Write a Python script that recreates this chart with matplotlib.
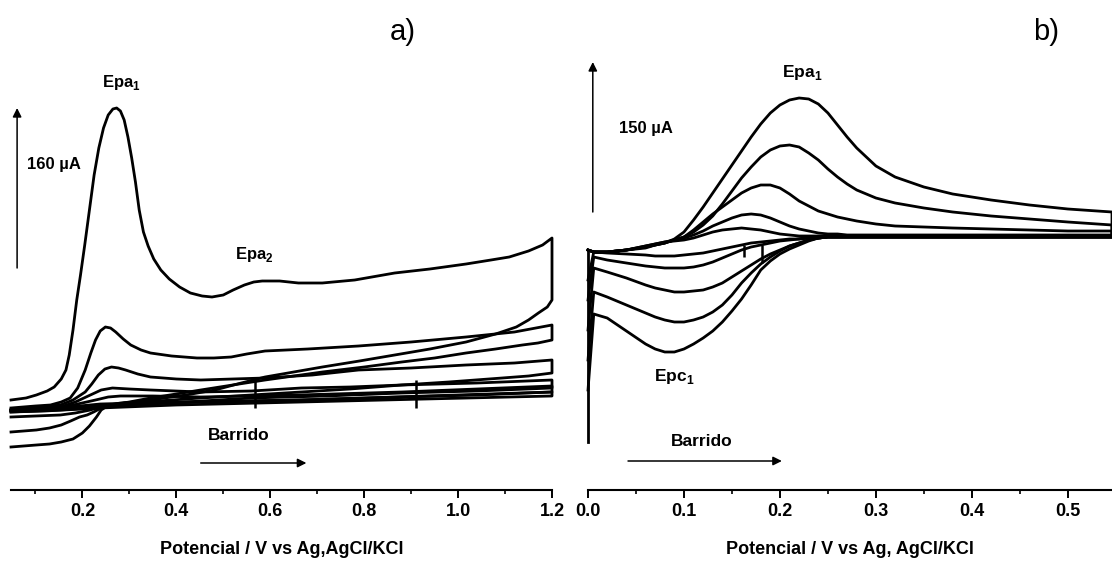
import matplotlib.pyplot as plt
from matplotlib.ticker import MultipleLocator

plt.rcParams["font.family"] = ["Liberation Sans", "DejaVu Sans"]
plt.rcParams["font.weight"] = "bold"
plt.rcParams["mathtext.fontset"] = "custom"
plt.rcParams["mathtext.rm"] = "Liberation Sans:bold"

# ----------------------------------------
# a) Potencial (V) y corriente (uA), barrido directo / inverso
# ----------------------------------------
A_FWD_E = [
    [0.048, 0.080, 0.102, 0.125, 0.140, 0.155, 0.165, 0.172, 0.180, 0.188, 0.196,
     0.205, 0.215, 0.225, 0.235, 0.245, 0.255, 0.265, 0.273, 0.281, 0.289, 0.297,
     0.305, 0.313, 0.321, 0.330, 0.340, 0.352, 0.367, 0.385, 0.407, 0.430, 0.455,
     0.476, 0.500, 0.521, 0.545, 0.565, 0.583, 0.620, 0.660, 0.711, 0.780, 0.865,
     0.940, 1.017, 1.070, 1.109, 1.150, 1.180, 1.200],
    [0.048, 0.100, 0.132, 0.155, 0.174, 0.190, 0.206, 0.218, 0.228, 0.238, 0.249,
     0.260, 0.271, 0.287, 0.303, 0.325, 0.345, 0.390, 0.444, 0.480, 0.517, 0.550,
     0.589, 0.680, 0.788, 0.900, 1.017, 1.120, 1.200],
    [0.048, 0.100, 0.153, 0.180, 0.206, 0.220, 0.234, 0.248, 0.262, 0.277, 0.292,
     0.318, 0.345, 0.400, 0.452, 0.520, 0.589, 0.690, 0.788, 0.900, 1.017, 1.120, 1.200],
    [0.048, 0.100, 0.153, 0.185, 0.217, 0.240, 0.264, 0.300, 0.345, 0.452, 0.560,
     0.666, 0.770, 0.880, 1.040, 1.200],
    [0.048, 0.120, 0.153, 0.190, 0.228, 0.255, 0.281, 0.350, 0.452, 0.660, 0.880,
     1.040, 1.200],
    [0.048, 0.150, 0.238, 0.400, 0.666, 0.930, 1.200],
]
A_FWD_I = [
    [10, 12, 15, 19, 23, 31, 40, 55, 80, 110, 135, 165, 200, 235, 262, 282, 295, 301,
     302, 299, 290, 273, 252, 228, 200, 178, 164, 151, 140, 131, 123, 117, 114, 113,
     115, 120, 125, 128, 129, 129, 127, 127, 130, 137, 141, 146, 150, 153, 159, 165, 172],
    [2, 4, 5, 8, 12, 22, 40, 57, 70, 79, 83, 82, 78, 71, 65, 60, 57, 54, 52, 52, 53,
     56, 59, 61, 64, 68, 73, 78, 85],
    [0, 2, 5, 10, 18, 26, 35, 41, 43, 42, 40, 36, 33, 31, 30, 31, 32, 35, 40, 42, 45, 47, 50],
    [0, 1, 3, 8, 15, 20, 22, 21, 20, 18, 19, 22, 23, 25, 27, 30],
    [0, 1, 2, 6, 10, 13, 14, 14, 13, 15, 18, 21, 24],
    [-1, 2, 6, 8, 10, 14, 18],
]
A_REV_E = [
    [1.200, 1.190, 1.171, 1.150, 1.124, 1.080, 1.017, 0.940, 0.865, 0.790, 0.711,
     0.650, 0.589, 0.530, 0.482, 0.420, 0.345, 0.290, 0.253, 0.240, 0.230, 0.215,
     0.200, 0.180, 0.155, 0.130, 0.102, 0.075, 0.048],
    [1.200, 1.170, 1.137, 1.080, 1.017, 0.950, 0.880, 0.800, 0.711, 0.650, 0.589,
     0.520, 0.452, 0.400, 0.345, 0.300, 0.260, 0.240, 0.224, 0.210, 0.194, 0.175,
     0.155, 0.130, 0.102, 0.075, 0.048],
    [1.200, 1.150, 1.094, 0.980, 0.880, 0.770, 0.666, 0.560, 0.452, 0.360, 0.281,
     0.245, 0.217, 0.185, 0.153, 0.100, 0.048],
    [1.200, 1.040, 0.880, 0.720, 0.559, 0.420, 0.281, 0.220, 0.153, 0.100, 0.048],
    [1.200, 1.040, 0.880, 0.660, 0.452, 0.340, 0.238, 0.150, 0.048],
    [1.200, 0.930, 0.666, 0.400, 0.238, 0.120, 0.048],
]
A_REV_I = [
    [110, 103, 97, 90, 83, 76, 68, 61, 55, 49, 43, 38, 33, 26, 20, 15, 10, 7, 4, 0,
     -7, -16, -23, -29, -32, -34, -35, -36, -37],
    [70, 67, 65, 61, 57, 52, 48, 43, 38, 34, 30, 25, 20, 16, 12, 8, 5, 2, -2, -5, -7,
     -11, -15, -18, -20, -21, -22],
    [37, 34, 32, 28, 25, 21, 18, 15, 12, 9, 7, 4, 0, -3, -5, -6, -7],
    [22, 19, 17, 14, 12, 8, 5, 2, 0, -1, -2],
    [18, 15, 13, 10, 8, 6, 4, 1, 0],
    [14, 11, 8, 5, 2, -1, -2],
]
A_MARK_E = [0.568, 0.910]
A_MARK_I = [2, 30]

# ----------------------------------------
# b) Potencial (V) y corriente (uA)
# ----------------------------------------
B_E = [0.000, 0.006, 0.02, 0.04, 0.06, 0.07, 0.08, 0.09, 0.10, 0.11, 0.12, 0.13,
       0.14, 0.15, 0.16, 0.17, 0.18, 0.19, 0.20, 0.21, 0.22, 0.23, 0.24, 0.25,
       0.26, 0.27, 0.28, 0.30, 0.32, 0.35, 0.38, 0.42, 0.46, 0.50, 0.546]
B_ANODIC = [
    [-10, -12, -12, -10, -8, -5, -3, 1, 8, 20, 33, 47, 61, 75, 89, 103, 116, 127,
     135, 140, 142, 141, 136, 127, 115, 103, 92, 74, 63, 53, 46, 40, 35, 31, 28],
    [-10, -12, -12, -10, -7, -5, -3, 0, 3, 8, 15, 24, 36, 49, 62, 73, 83, 90, 94,
     95, 93, 87, 80, 71, 63, 56, 50, 42, 37, 32, 28, 24, 21, 18, 15],
    [-10, -12, -12, -10, -7, -5, -3, 0, 3, 10, 18, 26, 33, 40, 47, 52, 55, 55, 52,
     46, 39, 34, 29, 26, 23, 21, 19, 16, 14, 13, 12, 11, 10, 9, 9],
    [-10, -12, -12, -10, -6, -4, -2, 0, 2, 5, 9, 14, 18, 22, 25, 26, 25, 22, 18,
     14, 11, 9, 7, 6, 6, 5, 5, 5, 5, 5, 5, 5, 5, 5, 5],
    [-10, -12, -12, -10, -6, -4, -2, -1, 0, 2, 5, 8, 10, 11, 12, 11, 10, 8, 6, 5,
     4, 4, 4, 4, 4, 4, 4, 4, 4, 4, 4, 4, 4, 4, 4],
]
B_CATHODIC = [
    [-150, -74, -78, -91, -104, -109, -112, -112, -109, -104, -98, -91, -82, -71,
     -59, -45, -30, -21, -14, -9, -5, -1, 2, 3, 3, 3, 3, 3, 3, 3, 3, 3, 3, 3, 3],
    [-120, -52, -57, -65, -73, -77, -80, -82, -82, -80, -77, -72, -65, -55, -43,
     -33, -24, -17, -11, -6, -3, 0, 2, 3, 3, 3, 3, 3, 3, 3, 3, 3, 3, 3, 3],
    [-90, -28, -32, -38, -45, -48, -50, -52, -52, -51, -50, -47, -43, -37, -31,
     -25, -19, -14, -10, -6, -3, 0, 2, 3, 3, 3, 3, 3, 3, 3, 3, 3, 3, 3, 3],
    [-60, -17, -20, -23, -26, -27, -28, -28, -28, -27, -25, -22, -18, -14, -10,
     -7, -5, -3, -1, 0, 1, 2, 2, 3, 3, 3, 3, 3, 3, 3, 3, 3, 3, 3, 3],
    [-40, -12, -13, -14, -15, -16, -16, -16, -15, -14, -13, -11, -9, -7, -5, -3,
     -2, -1, 0, 1, 1, 2, 2, 3, 3, 3, 3, 3, 3, 3, 3, 3, 3, 3, 3],
]
B_START_I = [-202, -10]
B_MARK_E = [0.163, 0.181]
B_MARK_LOW = [-17, -23]
B_MARK_HIGH = [-5, -5]

LINE_W = 2.0


def style_axis(ax, xlim, ylim, major, minor, label):
    ax.set_xlim(*xlim)
    ax.set_ylim(*ylim)
    for side in ["left", "right", "top"]:
        ax.spines[side].set_visible(False)
    ax.spines["bottom"].set_linewidth(1.5)
    ax.set_yticks([])
    ax.xaxis.set_major_locator(MultipleLocator(major))
    ax.xaxis.set_minor_locator(MultipleLocator(minor))
    ax.tick_params(axis="x", which="major", length=5.5, width=1.4, pad=4, labelsize=13)
    ax.tick_params(axis="x", which="minor", length=3, width=1.2)
    ax.set_xlabel(label, fontsize=13, fontweight="bold")
    ax.xaxis.set_label_coords(0.5, -0.104)
    ax.patch.set_alpha(0)


def arrow(ax, start, end):
    ax.annotate(
        "",
        xy=end,
        xytext=start,
        arrowprops=dict(arrowstyle="-|>", lw=1.1, color="black",
                        mutation_scale=13, shrinkA=0, shrinkB=0),
        annotation_clip=False,
    )


fig = plt.figure(figsize=(11.12, 5.61), dpi=100)
ax_a = fig.add_axes([11 / 1112, 71 / 561, 541 / 1112, 490 / 561])
ax_b = fig.add_axes([588 / 1112, 71 / 561, 524 / 1112, 490 / 561])

# ----------------------------------------
# Panel a)
# ----------------------------------------
for e_f, i_f, e_r, i_r in zip(A_FWD_E, A_FWD_I, A_REV_E, A_REV_I):
    ax_a.plot(e_f + e_r, i_f + i_r, color="black", lw=LINE_W, clip_on=False,
              solid_joinstyle="round")
ax_a.vlines(A_MARK_E, A_MARK_I[0], A_MARK_I[1], color="black", lw=1.8)

style_axis(ax_a, (0.048, 1.2), (-80, 410), 0.2, 0.1, "Potencial / V vs Ag,AgCl/KCl")
arrow(ax_a, (0.061, 142), (0.061, 302))
ax_a.text(0.082, 245, "160 \u00b5A", fontsize=12, va="center", ha="left")
ax_a.text(0.283, 328, r"Epa$_\mathrm{1}$", fontsize=12, va="center", ha="center")
ax_a.text(0.566, 155, r"Epa$_\mathrm{2}$", fontsize=12, va="center", ha="center")
ax_a.text(0.532, -25, "Barrido", fontsize=12.5, va="center", ha="center")
arrow(ax_a, (0.452, -53), (0.677, -53))

# ----------------------------------------
# Panel b)
# ----------------------------------------
ax_b.plot([B_E[0], B_E[0]], B_START_I, color="black", lw=LINE_W, clip_on=False)
for anodic, cathodic in zip(B_ANODIC, B_CATHODIC):
    ax_b.plot(B_E + B_E[::-1], anodic + cathodic[::-1], color="black", lw=LINE_W,
              clip_on=False, solid_joinstyle="round")
for e, low, high in zip(B_MARK_E, B_MARK_LOW, B_MARK_HIGH):
    ax_b.vlines(e, low, high, color="black", lw=1.8)

style_axis(ax_b, (0.0, 0.546), (-250, 240), 0.1, 0.05, "Potencial / V vs Ag, AgCl/KCl")
arrow(ax_b, (0.005, 28), (0.005, 178))
ax_b.text(0.032, 112, "150 \u00b5A", fontsize=12, va="center", ha="left")
ax_b.text(0.223, 168, r"Epa$_\mathrm{1}$", fontsize=12.5, va="center", ha="center")
ax_b.text(0.0896, -137, r"Epc$_\mathrm{1}$", fontsize=12.5, va="center", ha="center")
ax_b.text(0.118, -202, "Barrido", fontsize=12.5, va="center", ha="center")
arrow(ax_b, (0.0417, -221), (0.202, -221))

fig.text(403 / 1112, 1 - 32 / 561, "a)", fontsize=21, fontweight="normal",
         ha="center", va="center")
fig.text(1046 / 1112, 1 - 32 / 561, "b)", fontsize=21, fontweight="normal",
         ha="center", va="center")

fig.savefig("out.png", dpi=100)
